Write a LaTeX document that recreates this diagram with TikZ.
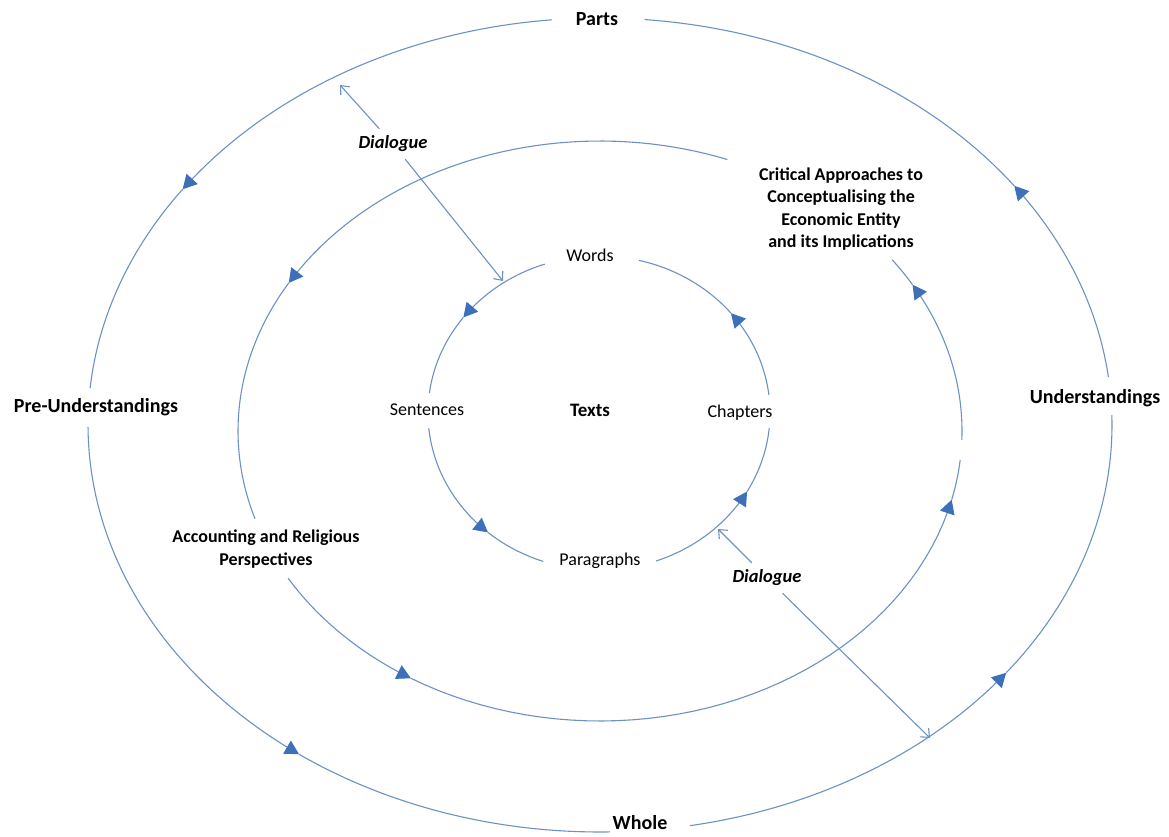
\documentclass[tikz,border=0pt]{standalone}
\usepackage{fontspec}
\setmainfont{Carlito}
\usetikzlibrary{arrows.meta}

\definecolor{ringblue}{RGB}{108,146,196}
\definecolor{tipblue}{RGB}{62,112,186}

\tikzset{
  ring/.style={draw=ringblue, line width=1.1pt},
  ringtip/.style={ring, -{Triangle[length=14pt,width=15pt,color=tipblue]}},
  dlgarrow/.style={draw=ringblue, line width=1.1pt, -{Straight Barb[length=7pt,width=12pt]}},
  inlbl/.style={font=\fontsize{18}{22}\selectfont, inner sep=0pt},
  keylbl/.style={font=\fontsize{20}{24}\selectfont\bfseries, inner sep=0pt},
  themelbl/.style={font=\fontsize{18}{22.3}\selectfont\bfseries, align=center, inner sep=0pt},
  dlglbl/.style={font=\fontsize{18.5}{22}\selectfont\bfseries\itshape, inner sep=7pt}
}

% one piece of an elliptical ring: style, centre x, centre y, radii a and b, angle range
\newcommand\ringpiece[6]{%
  \draw[#1] plot[domain=#6, samples=45] ({#2+#4*cos(\x)},{#3-#5*sin(\x)});}

\begin{document}
\begin{tikzpicture}[x=1pt,y=-1pt]
\fill[white] (0,0) rectangle (1169,836);
\useasboundingbox (0,0) rectangle (1169,836);

% ---------- labels ----------
\node[keylbl] (parts) at (597,19) {Parts};
\node[keylbl] (whole) at (640,823) {Whole};
\node[keylbl] (preu)  at (96,407) {Pre-Understandings};
\node[keylbl] (und)   at (1095,398) {Understandings};

\node[themelbl] (crit) at (841,209) {Critical Approaches to\\Conceptualising the\\Economic Entity\\and its Implications};
\node[themelbl] (acc)  at (266,549) {Accounting and Religious\\Perspectives};

\node[font=\fontsize{19}{22}\selectfont\bfseries, inner sep=0pt] (texts) at (590,410) {Texts};
\node[inlbl] (words) at (590,255) {Words};
\node[inlbl] (sent)  at (427,410) {Sentences};
\node[inlbl] (chap)  at (740,413) {Chapters};
\node[inlbl] (para)  at (600,561) {Paragraphs};

\node[dlglbl] (dlgA) at (393,144) {Dialogue};
\node[dlglbl] (dlgB) at (767,578) {Dialogue};

% ---------- outer ring: Parts / Pre-Understandings / Whole / Understandings ----------
\ringpiece{ringtip}{600}{425}{512}{407}{95.4:144.6}
\ringpiece{ring}{600}{425}{512}{407}{144.6:174.8}
\ringpiece{ringtip}{600}{425}{512}{407}{180.3:234}
\ringpiece{ring}{600}{425}{512}{407}{234:271.1}
\ringpiece{ringtip}{600}{425}{512}{407}{280.1:322.5}
\ringpiece{ring}{600}{425}{512}{407}{322.5:361.4}
\ringpiece{ringtip}{600}{425}{512}{407}{6.8:36}
\ringpiece{ring}{600}{425}{512}{407}{36:85}

% ---------- middle ring: the two perspectives ----------
\ringpiece{ringtip}{600}{431}{362}{290}{69.4:149.3}
\ringpiece{ring}{600}{431}{362}{290}{149.3:197.6}
\ringpiece{ringtip}{600}{431}{362}{290}{210.5:238.5}
\ringpiece{ringtip}{600}{431}{362}{290}{238.5:346.3}
\ringpiece{ring}{600}{431}{362}{290}{346.3:354.3}
\ringpiece{ringtip}{600}{431}{362}{290}{358.2:390.3}
\ringpiece{ring}{600}{431}{362}{290}{390.3:396.2}

% ---------- inner ring: Words / Sentences / Paragraphs / Chapters ----------
\ringpiece{ringtip}{599}{413}{171}{157}{108.5:142.5}
\ringpiece{ring}{599}{413}{171}{157}{142.5:172.7}
\ringpiece{ringtip}{599}{413}{171}{157}{185.5:229.5}
\ringpiece{ring}{599}{413}{171}{157}{229.5:251}
\ringpiece{ringtip}{599}{413}{171}{157}{289.5:330}
\ringpiece{ring}{599}{413}{171}{157}{330:354.5}
\ringpiece{ringtip}{599}{413}{171}{157}{6.6:39.5}
\ringpiece{ring}{599}{413}{171}{157}{39.5:76.5}

% ---------- dialogue arrows ----------
\coordinate (outerA) at (340,85);
\coordinate (innerA) at (503,281);
\coordinate (innerB) at (718,529);
\coordinate (outerB) at (930,738);
\draw[dlgarrow] (dlgA) -- (outerA);
\draw[dlgarrow] (dlgA) -- (innerA);
\draw[dlgarrow] (dlgB) -- (innerB);
\draw[dlgarrow] (dlgB) -- (outerB);
\end{tikzpicture}
\end{document}
